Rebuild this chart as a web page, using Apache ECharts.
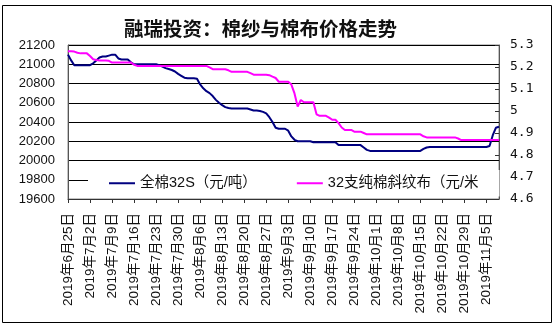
<!DOCTYPE html>
<html><head><meta charset="utf-8">
<script src="https://cdn.jsdelivr.net/npm/echarts@6/dist/echarts.min.js"></script>
<style>html,body{margin:0;padding:0;background:#fff}#c{width:555px;height:328px}</style>
</head><body><div id="c"></div>
<script>
const titleText = '融瑞投资：棉纱与棉布价格走势';
const seriesNames = ['全棉32S（元/吨）', '32支纯棉斜纹布（元/米'];
const startDate = [2019, 6, 25];
const dayCount = 138;
const yarn = [
21100,21040,20990,20990,20990,20990,20990,20990,21010,21040,
21070,21080,21080,21090,21100,21100,21060,21050,21050,21050,
21020,21000,21000,21000,21000,21000,21000,21000,21000,20990,
20975,20960,20950,20940,20925,20900,20880,20860,20855,20855,
20855,20850,20790,20750,20720,20700,20670,20630,20600,20575,
20555,20545,20540,20540,20540,20540,20540,20540,20530,20520,
20520,20515,20505,20490,20450,20400,20340,20330,20330,20330,
20310,20250,20215,20200,20200,20200,20200,20200,20190,20190,
20190,20190,20190,20190,20190,20190,20160,20160,20160,20160,
20160,20160,20160,20160,20135,20110,20100,20100,20100,20100,
20100,20100,20100,20100,20100,20100,20100,20100,20100,20100,
20100,20100,20100,20120,20135,20140,20140,20140,20140,20140,
20140,20140,20140,20140,20140,20140,20140,20140,20140,20140,
20140,20140,20140,20140,20150,20260,20340,20350];
const cloth = [
5.272,5.272,5.27,5.265,5.262,5.262,5.262,5.25,5.235,5.232,
5.23,5.23,5.23,5.228,5.22,5.22,5.22,5.22,5.22,5.22,
5.22,5.21,5.205,5.205,5.205,5.205,5.205,5.205,5.205,5.205,
5.205,5.205,5.205,5.205,5.205,5.205,5.205,5.205,5.205,5.205,
5.205,5.205,5.205,5.205,5.205,5.198,5.19,5.19,5.19,5.19,
5.19,5.185,5.178,5.178,5.178,5.178,5.178,5.178,5.172,5.165,
5.165,5.165,5.165,5.165,5.163,5.156,5.15,5.133,5.133,5.133,
5.133,5.12,5.08,5.02,5.05,5.04,5.04,5.04,5.04,4.985,
4.978,4.978,4.978,4.97,4.96,4.96,4.945,4.925,4.914,4.914,
4.914,4.906,4.906,4.906,4.9,4.894,4.894,4.894,4.894,4.894,
4.894,4.894,4.894,4.894,4.894,4.894,4.894,4.894,4.894,4.894,
4.894,4.894,4.894,4.885,4.88,4.88,4.88,4.88,4.88,4.88,
4.88,4.88,4.88,4.88,4.875,4.868,4.868,4.868,4.868,4.868,
4.868,4.868,4.868,4.868,4.868,4.868,4.868,4.868];
const leftTicks = [19600, 21200, 200];
const rightTicks = [4.6, 5.3, 0.1];

const categories = [];
for (let i = 0; i < dayCount; i++) {
  const d = new Date(startDate[0], startDate[1] - 1, startDate[2] + i);
  categories.push(d.getFullYear() + '年' + (d.getMonth() + 1) + '月' + d.getDate() + '日');
}

const FONT = '"Liberation Sans","Noto Sans CJK SC",sans-serif';
const chart = echarts.init(document.getElementById('c'), null, {renderer: 'canvas'});
chart.setOption({
  animation: false,
  backgroundColor: '#fff',
  title: {
    text: titleText, left: 124, top: 19, padding: 0,
    textStyle: {fontSize: 19.5, fontWeight: 'bold', color: '#111', fontFamily: '"Noto Sans CJK SC",sans-serif'}
  },
  graphic: [{
    type: 'rect', shape: {x: 2.5, y: 5.5, width: 549, height: 317},
    style: {fill: 'none', stroke: '#000', lineWidth: 1}, silent: true, z: -1
  }],
  grid: {left: 68, right: 56, top: 45, bottom: 129, show: true, borderColor: '#888', borderWidth: 1},
  legend: {
    left: 88, top: 170, padding: [6, 21, 6, 21], itemGap: 40,
    backgroundColor: '#fff', icon: 'rect', itemWidth: 26, itemHeight: 2,
    textStyle: {fontSize: 14.5, color: '#111', fontFamily: FONT},
    data: seriesNames
  },
  xAxis: {
    type: 'category', data: categories, boundaryGap: false,
    axisLine: {lineStyle: {color: '#333', width: 1}},
    axisTick: {show: true, interval: 6, length: 4, lineStyle: {color: '#333'}},
    axisLabel: {interval: 6, rotate: 90, margin: 14, fontSize: 13.5, color: '#111', fontFamily: FONT},
    splitLine: {show: false}
  },
  yAxis: [{
    type: 'value', min: leftTicks[0], max: leftTicks[1], interval: leftTicks[2],
    axisLine: {show: true, lineStyle: {color: '#555'}},
    axisTick: {show: false},
    axisLabel: {margin: 13, fontSize: 13, color: '#111', fontFamily: FONT,
      formatter: v => String(Math.round(v))},
    splitLine: {show: true, lineStyle: {color: '#000', width: 1}}
  }, {
    type: 'value', min: rightTicks[0], max: rightTicks[1], interval: rightTicks[2],
    position: 'right',
    axisLine: {show: true, lineStyle: {color: '#555'}},
    axisTick: {show: true, inside: true, length: 4, lineStyle: {color: '#333'}},
    axisLabel: {margin: 11, fontSize: 13, color: '#111', fontFamily: '"DejaVu Sans Mono",monospace',
      formatter: v => String(Math.round(v * 10) / 10)},
    splitLine: {show: false}
  }],
  series: [{
    name: seriesNames[0], type: 'line', yAxisIndex: 0, data: yarn,
    showSymbol: false, symbol: 'none', color: '#000080',
    lineStyle: {color: '#000080', width: 2}
  }, {
    name: seriesNames[1], type: 'line', yAxisIndex: 1, data: cloth,
    showSymbol: false, symbol: 'none', color: '#ff00ff',
    lineStyle: {color: '#ff00ff', width: 2}
  }]
});
</script></body></html>
